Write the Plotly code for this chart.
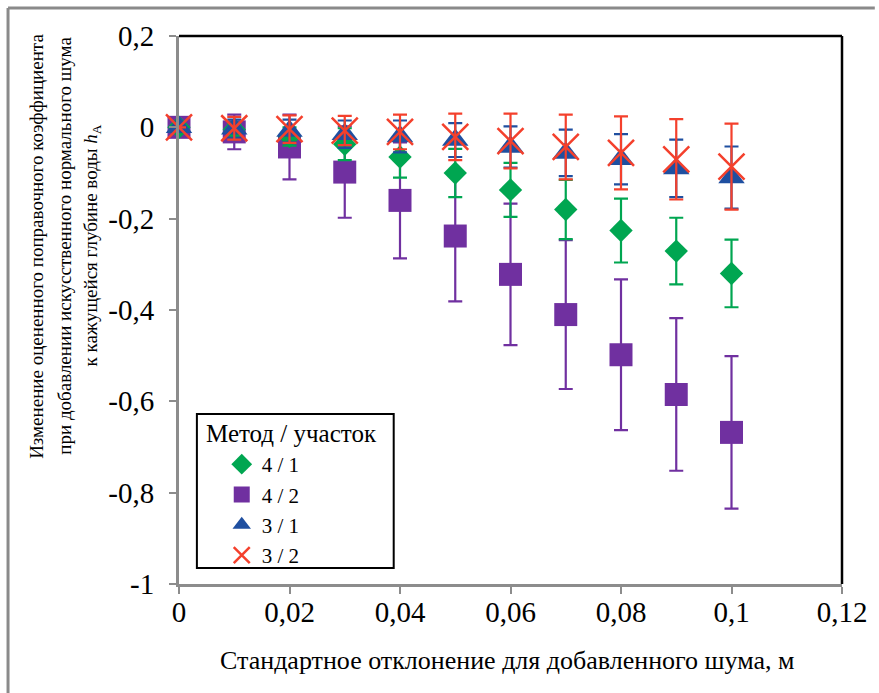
import plotly.graph_objects as go

# ---- data ----
x_noise = [0, 0.01, 0.02, 0.03, 0.04, 0.05, 0.06, 0.07, 0.08, 0.09, 0.10]

m41_val = [0, -0.005, -0.02, -0.037, -0.065, -0.100, -0.137, -0.180, -0.226, -0.271, -0.320]
m41_err = [0, 0.012, 0.020, 0.035, 0.045, 0.053, 0.059, 0.065, 0.070, 0.073, 0.074]

m42_val = [0, -0.010, -0.043, -0.098, -0.160, -0.238, -0.322, -0.410, -0.498, -0.585, -0.668]
m42_err = [0, 0.038, 0.071, 0.100, 0.127, 0.143, 0.155, 0.163, 0.165, 0.167, 0.167]

m31_val = [0, -0.003, -0.008, -0.015, -0.020, -0.028, -0.043, -0.056, -0.070, -0.090, -0.110]
m31_err = [0, 0.020, 0.025, 0.030, 0.035, 0.037, 0.045, 0.051, 0.055, 0.063, 0.068]

m32_val = [0, -0.002, -0.004, -0.007, -0.010, -0.021, -0.030, -0.043, -0.056, -0.070, -0.086]
m32_err = [0, 0.025, 0.030, 0.032, 0.038, 0.051, 0.060, 0.071, 0.080, 0.088, 0.094]

x_tickvals = [0, 0.02, 0.04, 0.06, 0.08, 0.10, 0.12]
x_ticktext = ["0", "0,02", "0,04", "0,06", "0,08", "0,1", "0,12"]
y_tickvals = [0.2, 0, -0.2, -0.4, -0.6, -0.8, -1]
y_ticktext = ["0,2", "0", "-0,2", "-0,4", "-0,6", "-0,8", "-1"]

legend_title = "Метод / участок"
x_title = "Стандартное отклонение для добавленного шума, м"
y_title_lines = [
    "Изменение оцененного поправочного коэффициента",
    "при добавлении искусственного нормального шума",
    "к кажущейся глубине воды <i>h</i><sub>A</sub>",
]

GREEN = "#00A651"
PURPLE = "#7030A0"
BLUE = "#1F4FA0"
RED = "#F4402C"
FONT = "Liberation Serif, Times New Roman, serif"

W, H = 879, 693
L, R, T, B = 179, 33, 36, 109
PW, PH = W - L - R, H - T - B


def px(xp):
    return (xp - L) / PW


def py(yp):
    return (H - B - yp) / PH


fig = go.Figure()


def add(name, y, err, color, symbol, size, rank, line=None):
    marker = dict(symbol=symbol, size=size, color=color)
    if line:
        marker["line"] = line
    fig.add_trace(go.Scatter(
        x=x_noise, y=y, mode="markers", name=name, legendrank=rank,
        marker=marker, cliponaxis=False,
        error_y=dict(type="data", array=err, visible=True, color=color,
                     thickness=2.2, width=7),
    ))


add("4 / 2", m42_val, m42_err, PURPLE, "square", 23, 2)
add("4 / 1", m41_val, m41_err, GREEN, "diamond", 18, 1)
add("3 / 1", m31_val, m31_err, BLUE, "triangle-up", 23, 3)
add("3 / 2", m32_val, m32_err, RED, "x-thin", 26, 4, line=dict(color=RED, width=2.5))

annotations = [
    dict(text=x_title, xref="paper", yref="paper", x=px(509), y=py(660),
         xanchor="center", yanchor="middle", showarrow=False,
         font=dict(family=FONT, size=26, color="black")),
    dict(text=legend_title, xref="paper", yref="paper", x=px(204), y=py(433),
         xanchor="left", yanchor="middle", showarrow=False,
         font=dict(family=FONT, size=25, color="black")),
]
for line_text, xc in zip(y_title_lines, [35, 63, 91]):
    annotations.append(dict(
        text=line_text, xref="paper", yref="paper", x=px(xc), y=py(246),
        xanchor="center", yanchor="middle", showarrow=False, textangle=-90,
        font=dict(family=FONT, size=19, color="black")))

fig.update_layout(
    width=W, height=H,
    margin=dict(l=L, r=R, t=T, b=B),
    paper_bgcolor="white", plot_bgcolor="white",
    font=dict(family=FONT, color="black", size=22),
    showlegend=True,
    legend=dict(
        x=px(222), y=py(444), xanchor="left", yanchor="top",
        bgcolor="rgba(0,0,0,0)", borderwidth=0,
        font=dict(family=FONT, size=21, color="black"),
        traceorder="normal",
    ),
    xaxis=dict(
        range=[0, 0.12], tickvals=x_tickvals, ticktext=x_ticktext,
        showgrid=False, zeroline=False, showline=True,
        linecolor="#8c8c8c", linewidth=3,
        ticks="outside", ticklen=7, tickwidth=2, tickcolor="#8c8c8c",
        tickfont=dict(family=FONT, size=29, color="black"),
        ticklabelstandoff=-7,
    ),
    yaxis=dict(
        range=[-1, 0.2], tickvals=y_tickvals, ticktext=y_ticktext,
        showgrid=False, zeroline=False, showline=True,
        linecolor="#8c8c8c", linewidth=3,
        ticks="outside", ticklen=7, tickwidth=2, tickcolor="#8c8c8c",
        tickfont=dict(family=FONT, size=29, color="black"),
        ticklabelstandoff=9,
    ),
    shapes=[
        # plot-area top & right borders
        dict(type="line", xref="paper", yref="paper", x0=0, x1=1, y0=1, y1=1,
             line=dict(color="black", width=2.5)),
        dict(type="line", xref="paper", yref="paper", x0=1, x1=1, y0=0, y1=1,
             line=dict(color="black", width=2.5)),
        # legend box
        dict(type="rect", xref="paper", yref="paper", x0=px(197), x1=px(395),
             y0=py(568), y1=py(414), fillcolor="white",
             line=dict(color="black", width=2), layer="below"),
        # outer frame (left & top)
        dict(type="line", xref="paper", yref="paper", x0=px(7), x1=px(7), y0=py(693), y1=py(8),
             line=dict(color="#8a8a8a", width=3)),
        dict(type="line", xref="paper", yref="paper", x0=px(7), x1=px(879), y0=py(8), y1=py(8),
             line=dict(color="#8a8a8a", width=3)),
    ],
    annotations=annotations,
)

fig.write_html("out.html")
